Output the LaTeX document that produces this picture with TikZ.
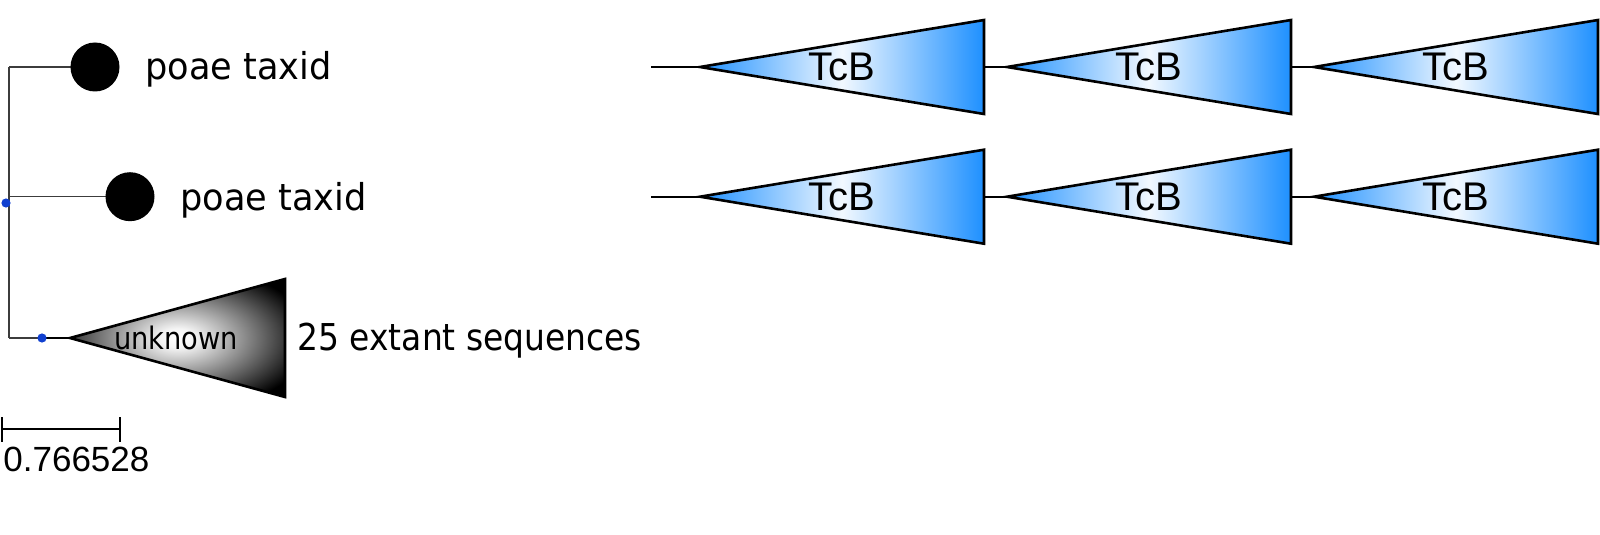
\documentclass[tikz,border=0pt]{standalone}
\usepackage{fontspec}
\setmainfont{DejaVu Sans}
\newfontfamily\lblfont[FakeStretch=0.95]{DejaVu Sans}
\newfontfamily\seqfont[FakeStretch=0.89]{DejaVu Sans}
\newfontfamily\unkfont[FakeStretch=0.88]{DejaVu Sans}
\newfontfamily\arialfont{Liberation Sans}
\usetikzlibrary{backgrounds}
\definecolor{tcbblue}{RGB}{30,144,255}
\definecolor{dotblue}{RGB}{16,64,208}
\definecolor{branchgray}{RGB}{60,60,60}
\pgfdeclareradialshading{unkshade}{\pgfpoint{0bp}{0bp}}{color(0bp)=(white); color(4bp)=(white!96!black); color(31bp)=(black); color(100bp)=(black)}
\tikzset{
  branch/.style={draw=branchgray, line width=0.55pt},
  thickbranch/.style={draw=black, line width=1.2pt},
  leaf/.style={circle, fill=black, inner sep=0pt, minimum size=24.5pt},
  bluedot/.style={circle, fill=dotblue, inner sep=0pt, minimum size=4.6pt},
  leaflabel/.style={anchor=base west, inner sep=0pt, font=\lblfont\fontsize{18.5pt}{20pt}\selectfont},
  tcbtri/.style={draw=black, line width=1.3pt, left color=tcbblue, right color=tcbblue, middle color=white!94!tcbblue},
  tcblabel/.style={anchor=base, inner sep=0pt, font=\arialfont\fontsize{20pt}{22pt}\selectfont},
  unktri/.style={draw=black, line width=1.3pt, shade, shading=unkshade},
  scalebar/.style={draw=black, line width=1.2pt},
}
\begin{document}
\begin{tikzpicture}[x=0.5pt, y=-0.5pt]
\useasboundingbox (0,0) rectangle (1600,535);

% --- left tree ---
\node[leaf] (c1) at (95,67) {};
\node[leaf] (c2) at (130,196.7) {};
\coordinate (v1) at (9,67);
\coordinate (v2) at (9,196.7);
\coordinate (v3) at (9,338);
\coordinate (ua) at (70,338);
\coordinate (ut) at (285,279);
\coordinate (ub) at (285,397);
\node[bluedot] (d3) at (42,338) {};
\node[bluedot] (root) at (6,203) {};

\begin{pgfonlayer}{background}
\draw[branch] (v1) -- (v3);
\draw[branch] (v1) -- (c1.center);
\draw[branch] (v2) -- (c2.center);
\draw[branch] (v3) -- (d3.center);
\draw[thickbranch] (d3.center) -- (ua);
\end{pgfonlayer}

\path[unktri] (ua) -- (ut) -- (ub) -- cycle;
\node[anchor=base, inner sep=0pt, font=\unkfont\fontsize{15.5pt}{17pt}\selectfont] (unk) at (176,349) {unknown};

\node[leaflabel] (l1) at (145,80) {poae taxid};
\node[leaflabel] (l2) at (180,210) {poae taxid};
\node[anchor=base west, inner sep=0pt, font=\seqfont\fontsize{18.5pt}{20pt}\selectfont] (l3) at (297,350) {25 extant sequences};

% --- scale bar ---
\coordinate (s1) at (2,429);
\coordinate (s2) at (120,429);
\draw[scalebar] (s1) -- (s2);
\draw[scalebar] ([yshift=6pt]s1) -- ([yshift=-6.5pt]s1);
\draw[scalebar] ([yshift=6pt]s2) -- ([yshift=-6.5pt]s2);
\node[anchor=base west, inner sep=0pt, font=\arialfont\fontsize{17.5pt}{19pt}\selectfont] (sl) at (3,471) {0.766528};

% --- TcB rows ---
\foreach \r/\y in {1/67, 2/196.7} {
  \coordinate (start\r) at (651,\y);
  \foreach \k/\ax in {1/700, 2/1007, 3/1314} {
    \coordinate (a\r\k) at (\ax,\y);
    \coordinate (e\r\k) at ({\ax+284},\y);
    \path[tcbtri] (a\r\k) -- ({\ax+284},{\y-47}) -- ({\ax+284},{\y+47}) -- cycle;
    \node[tcblabel] (t\r\k) at ({\ax+142},{\y+14}) {TcB};
  }
  \begin{pgfonlayer}{background}
  \draw[thickbranch] (start\r) -- (a\r1);
  \draw[thickbranch] (e\r1) -- (a\r2);
  \draw[thickbranch] (e\r2) -- (a\r3);
  \end{pgfonlayer}
}
\end{tikzpicture}
\end{document}
